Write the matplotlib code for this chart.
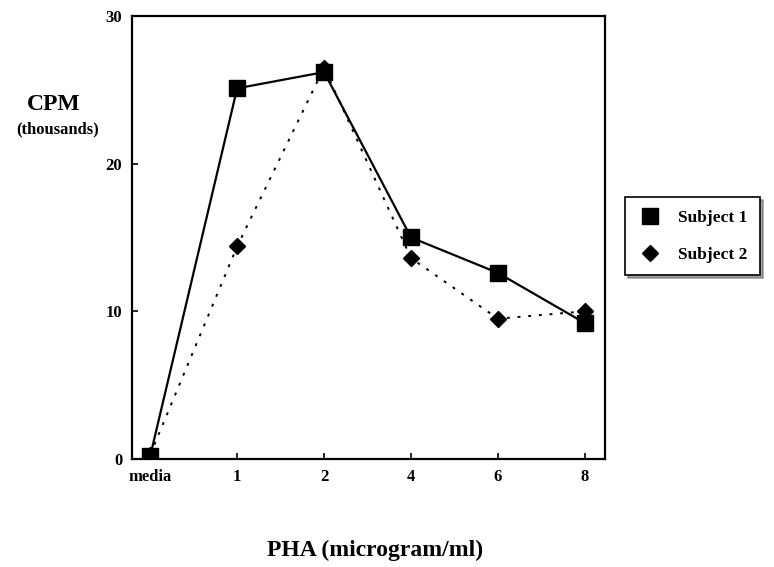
import matplotlib
matplotlib.use("Agg")
import matplotlib.pyplot as plt

categories = ["media", "1", "2", "4", "6", "8"]
subject1 = [0.2, 25.1, 26.2, 15.0, 12.6, 9.2]
subject2 = [0.3, 14.4, 26.5, 13.6, 9.5, 10.0]
yticks = [0, 10, 20, 30]

plt.rcParams['font.family'] = ['Liberation Serif', 'DejaVu Serif']
plt.rcParams['font.weight'] = 'bold'

fig = plt.figure(figsize=(7.74, 5.67), dpi=100)
ax = fig.add_axes([0.1705, 0.1905, 0.611, 0.7813])

x = list(range(len(categories)))
l1, = ax.plot(x, subject1, color='black', lw=1.6, linestyle='-',
              marker='s', markersize=11, label='Subject 1', zorder=3)
l2, = ax.plot(x, subject2, color='black', lw=1.4, linestyle=(0, (1.5, 4)),
              marker='D', markersize=8, label='Subject 2', zorder=2)

ax.set_xlim(-0.21, 5.23)
ax.set_ylim(0, 30)
ax.set_xticks(x)
ax.set_xticklabels(categories, fontsize=12, fontweight='bold')
ax.set_yticks(yticks)
ax.set_yticklabels([str(v) for v in yticks], fontsize=12, fontweight='bold')
ax.tick_params(direction='in', length=4, width=1.2, pad=7)
for s in ax.spines.values():
    s.set_linewidth(1.6)

fig.text(0.069, 0.815, "CPM", ha='center', va='center', fontsize=17, fontweight='bold')
fig.text(0.075, 0.772, "(thousands)", ha='center', va='center', fontsize=12, fontweight='bold')
fig.text(0.485, 0.03, "PHA (microgram/ml)", ha='center', va='center', fontsize=17, fontweight='bold')

leg = fig.legend(handles=[l1, l2], labels=['Subject 1', 'Subject 2'],
                 loc='upper left', bbox_to_anchor=(0.808, 0.652),
                 frameon=True, fancybox=False, shadow=True, edgecolor='black',
                 prop={'weight': 'bold', 'size': 12.5}, handlelength=1.4,
                 borderpad=0.7, labelspacing=1.2, handletextpad=0.95,
                 borderaxespad=0)
for h in leg.legend_handles:
    h.set_linestyle('none')
leg.get_frame().set_linewidth(1.2)

fig.savefig("out.png", dpi=100)
